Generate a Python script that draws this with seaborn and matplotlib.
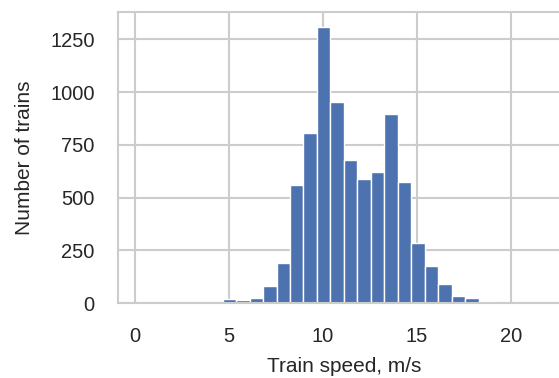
import numpy as np
import pandas as pd
import matplotlib
matplotlib.use("Agg")
import matplotlib.pyplot as plt
import seaborn as sns

# Histogram of train speeds: 20 bins between the lowest and highest speed
speed_min = 4.66
speed_max = 19.0
n_bins = 20
train_counts = [20, 16, 22, 81, 191, 558, 804, 1310, 952, 676,
                590, 619, 894, 576, 286, 174, 89, 33, 22, 8]

x_ticks = [0, 5, 10, 15, 20]
y_ticks = [0, 250, 500, 750, 1000, 1250]

bin_edges = np.linspace(speed_min, speed_max, n_bins + 1)
bin_centers = (bin_edges[:-1] + bin_edges[1:]) / 2
df = pd.DataFrame({"speed": bin_centers, "count": train_counts})

sns.set_theme(style="whitegrid")
plt.rcParams["font.family"] = ["Liberation Sans", "DejaVu Sans"]
plt.rcParams["axes.edgecolor"] = ".8"
plt.rcParams["grid.color"] = ".8"

fig = plt.figure(figsize=(5.59, 3.78), dpi=100)
ax = fig.add_axes([0.2116, 0.1984, 0.81, 0.769])

sns.histplot(data=df, x="speed", weights="count", bins=bin_edges.tolist(),
             color="#4C72B0", alpha=1, edgecolor="white", linewidth=1.0,
             ax=ax)

ax.set_xlim(-0.89, 23.2)
ax.set_ylim(0, 1378)
ax.set_xticks(x_ticks)
ax.set_yticks(y_ticks)
ax.grid(True, color=".8", linewidth=1.5)
ax.set_axisbelow(True)
for sp in ax.spines.values():
    sp.set_color(".8")
    sp.set_linewidth(1.5)

ax.tick_params(axis="both", labelsize=14.5, colors=".15", length=0)
ax.tick_params(axis="x", pad=17)
ax.tick_params(axis="y", pad=17)
ax.set_xlabel("Train speed, m/s", fontsize=15, color=".15", labelpad=8)
ax.set_ylabel("Number of trains", fontsize=15, color=".15", labelpad=12)

fig.savefig("out.png", dpi=100)
